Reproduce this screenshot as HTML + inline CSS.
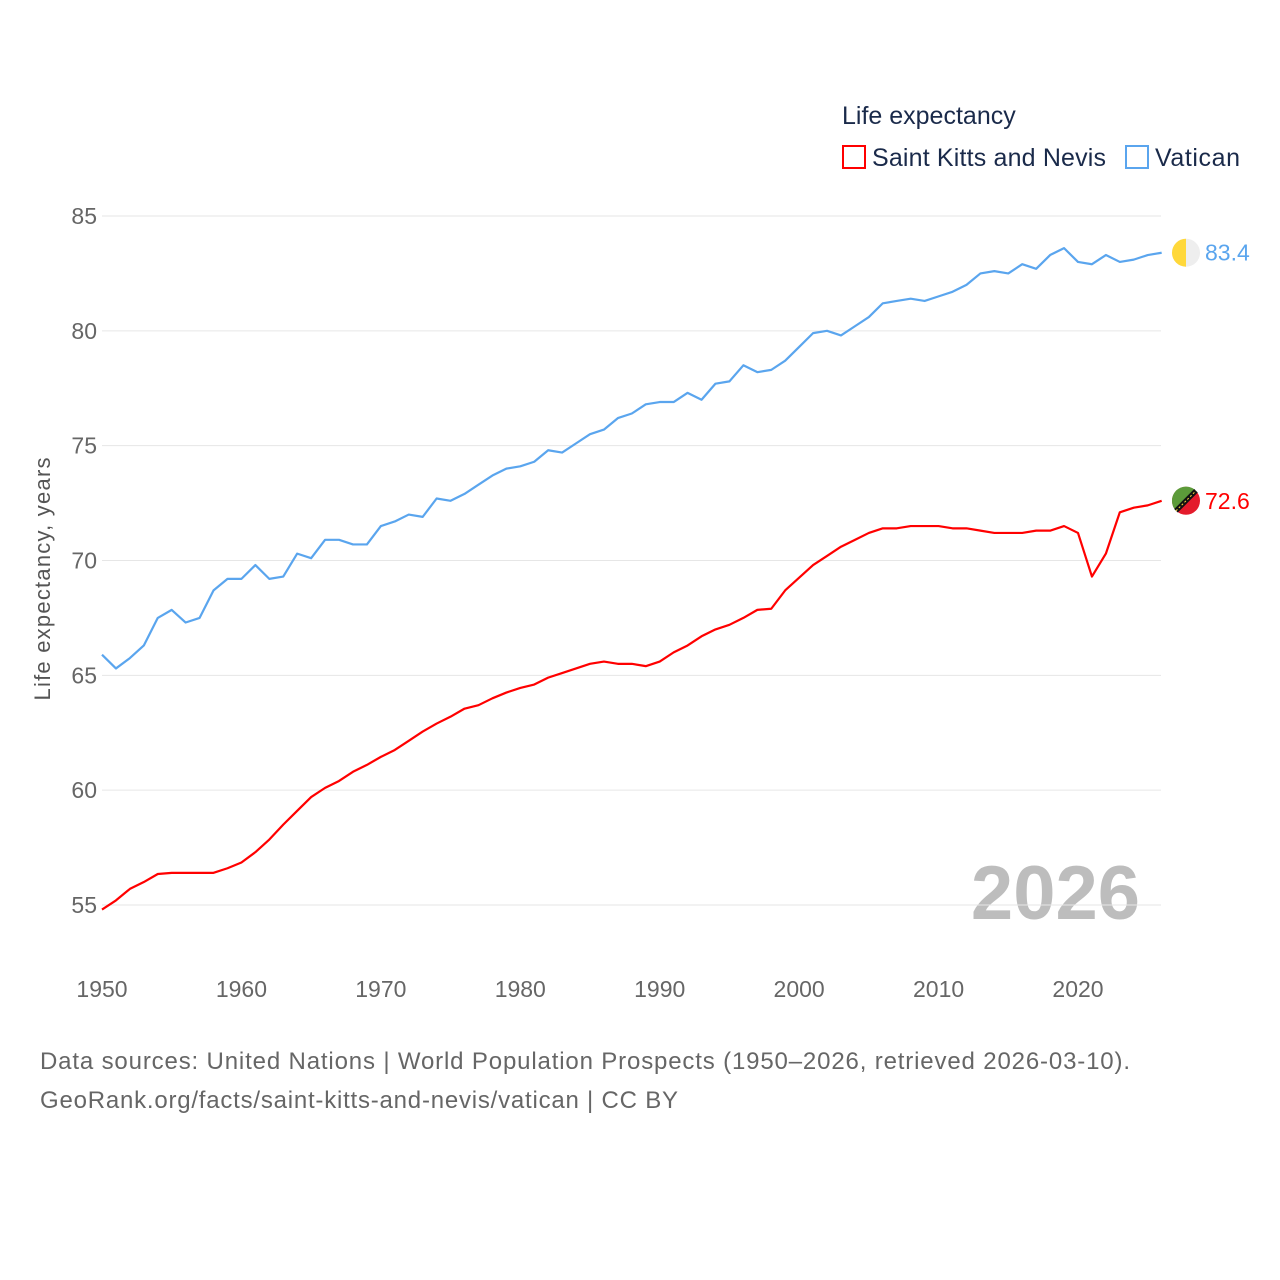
<!DOCTYPE html>
<html><head><meta charset="utf-8"><style>
body{margin:0;background:#fff;font-family:"Liberation Sans",sans-serif}
svg{display:block}
</style></head><body>
<svg id="chart" width="1280" height="1280">
<text x="842" y="124" font-size="25" fill="#1a2a4a">Life expectancy</text>
<rect x="843" y="146" width="22" height="22" fill="none" stroke="#f00" stroke-width="2"/>
<text x="872" y="166" font-size="25" fill="#1a2a4a" textLength="234">Saint Kitts and Nevis</text>
<rect x="1126" y="146" width="22" height="22" fill="none" stroke="#5aa5ee" stroke-width="2"/>
<text x="1155" y="166" font-size="25" fill="#1a2a4a" textLength="85">Vatican</text>
<text transform="translate(50,579) rotate(-90)" text-anchor="middle" font-size="22" fill="#555" textLength="243">Life expectancy, years</text>
<text x="1140" y="919" text-anchor="end" font-size="76" font-weight="bold" fill="#bdbdbd">2026</text>
<g id="grid"></g><g id="lines"></g>
<text x="40" y="1069" font-size="24" fill="#666" textLength="1090">Data sources: United Nations | World Population Prospects (1950–2026, retrieved 2026-03-10).</text>
<text x="40" y="1108" font-size="24" fill="#666" textLength="638">GeoRank.org/facts/saint-kitts-and-nevis/vatican | CC BY</text>
</svg>
<script>
const years=[];for(let y=1950;y<=2026;y++)years.push(y);
const yTicks=[55,60,65,70,75,80,85];
const xTicks=[1950,1960,1970,1980,1990,2000,2010,2020];
const vatican=[65.9,65.3,65.75,66.3,67.5,67.85,67.3,67.5,68.7,69.2,69.2,69.8,69.2,69.3,70.3,70.1,70.9,70.9,70.7,70.7,71.5,71.7,72.0,71.9,72.7,72.6,72.9,73.3,73.7,74.0,74.1,74.3,74.8,74.7,75.1,75.5,75.7,76.2,76.4,76.8,76.9,76.9,77.3,77.0,77.7,77.8,78.5,78.2,78.3,78.7,79.3,79.9,80.0,79.8,80.2,80.6,81.2,81.3,81.4,81.3,81.5,81.7,82.0,82.5,82.6,82.5,82.9,82.7,83.3,83.6,83.0,82.9,83.3,83.0,83.1,83.3,83.4];
const skn=[54.8,55.2,55.7,56.0,56.35,56.4,56.4,56.4,56.4,56.6,56.85,57.3,57.85,58.5,59.1,59.7,60.1,60.4,60.8,61.1,61.45,61.75,62.15,62.55,62.9,63.2,63.55,63.7,64.0,64.25,64.45,64.6,64.9,65.1,65.3,65.5,65.6,65.5,65.5,65.4,65.6,66.0,66.3,66.7,67.0,67.2,67.5,67.85,67.9,68.7,69.25,69.8,70.2,70.6,70.9,71.2,71.4,71.4,71.5,71.5,71.5,71.4,71.4,71.3,71.2,71.2,71.2,71.3,71.3,71.5,71.2,69.3,70.3,72.1,72.3,72.4,72.6];
const X=v=>102+(v-1950)*(1078-102)/70;
const Y=v=>905-(v-55)*(905-216)/30;
const NS="http://www.w3.org/2000/svg";
function mk(t,a,p){const e=document.createElementNS(NS,t);for(const k in a)e.setAttribute(k,a[k]);p.appendChild(e);return e;}
const grid=document.getElementById('grid'),lines=document.getElementById('lines');
yTicks.forEach(v=>{
 const l=mk('line',{x1:102,x2:1161,y1:Y(v),y2:Y(v),stroke:'#e6e6e6','stroke-width':1},grid);
 
 
 const t=mk('text',{x:97,y:Y(v)+8,'text-anchor':'end','font-size':23,fill:'#666'},grid);t.textContent=v;
 
 
});
xTicks.forEach(v=>{
 const t=mk('text',{x:X(v),y:997,'text-anchor':'middle','font-size':23,fill:'#666'},grid);t.textContent=v;
 
 
});
function series(d,c,name,label,flag){
 const p=mk('polyline',{points:d.map((v,i)=>X(years[i])+','+Y(v)).join(' '),fill:'none',stroke:c,'stroke-width':2.2,'stroke-linejoin':'round'},lines);
 
 
 const last=d[d.length-1],ly=Y(last);
 const g=mk('g',{},lines);
 
 
 if(flag==='v'){
  mk('circle',{cx:1186,cy:ly,r:14,fill:'#eee'},g);
  mk('path',{d:`M1186 ${ly-14} A14 14 0 0 0 1186 ${ly+14}Z`,fill:'#ffd83a'},g);
 }else{
  mk('circle',{cx:1186,cy:ly,r:14,fill:'#e41b2c'},g);
  mk('path',{d:`M1172 ${ly} A14 14 0 0 1 1196 ${ly-10}L1176 ${ly+10}A14 14 0 0 1 1172 ${ly}Z`,fill:'#5c9b3a'},g);
  mk('line',{x1:1176,y1:ly+10,x2:1196,y2:ly-10,stroke:'#111','stroke-width':5},g);
  mk('line',{x1:1176,y1:ly+10,x2:1196,y2:ly-10,stroke:'#ffd83a','stroke-width':1,'stroke-dasharray':'2 2'},g);
 }
 const t=mk('text',{x:1205,y:ly+8,'font-size':23,fill:c},lines);t.textContent=label;
 
 
}
series(vatican,'#5aa5ee','vatican','83.4','v');
series(skn,'#ff0000','saint-kitts-nevis','72.6','s');
</script>
</body></html>
